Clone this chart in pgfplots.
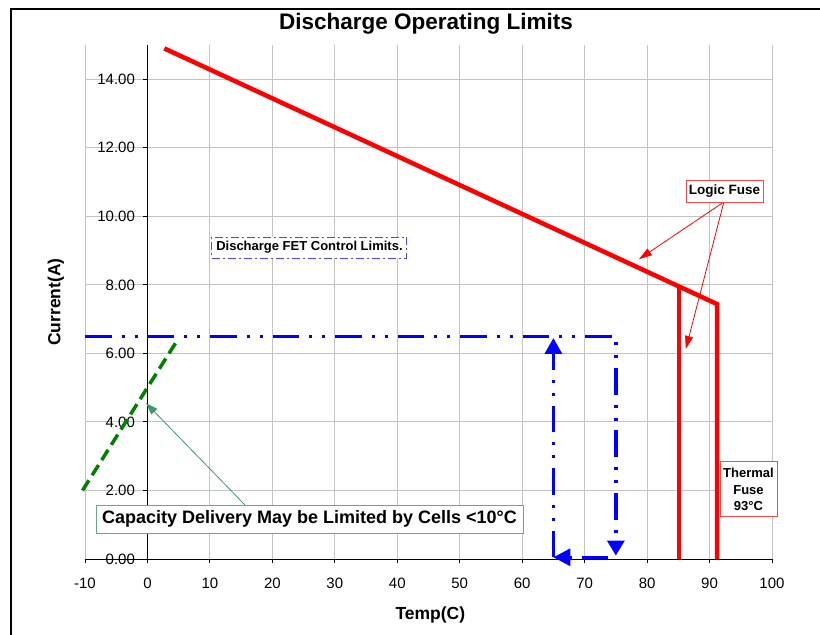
\documentclass[border=0pt]{standalone}
\usepackage{pgfplots}
\pgfplotsset{compat=1.18}
\usepackage{fontspec}
\setmainfont{Liberation Sans}
\usetikzlibrary{arrows.meta}
\definecolor{gridgray}{RGB}{195,195,195}
\definecolor{annogreen}{RGB}{60,150,110}
\definecolor{boxgreen}{RGB}{100,170,130}
\definecolor{xblue}{RGB}{0,0,255}
\definecolor{fetblue}{RGB}{70,70,255}
\definecolor{xred}{RGB}{255,0,0}
\definecolor{boxred}{RGB}{255,70,70}
\definecolor{dgreen}{RGB}{0,128,0}
\begin{document}
\begin{tikzpicture}
\begin{axis}[
  scale only axis, width=687pt, height=514pt,
  xmin=-10, xmax=100, ymin=0, ymax=15,
  axis x line=bottom, axis y line=center,
  hide obscured x ticks=false, hide obscured y ticks=false,
  xtick={-10,0,...,100}, ytick={0,2,...,14},
  grid=major, major grid style={gridgray, line width=0.9pt},
  axis line style={black, line width=0.9pt, -},
  tick style={black, line width=0.9pt},
  tick align=outside, major tick length=4pt,
  /pgf/number format/assume math mode=true,
  ticklabel style={font=\fontsize{15}{18}\selectfont},
  yticklabel style={xshift=-5pt, /pgf/number format/.cd, fixed, fixed zerofill, precision=2},
  xticklabel style={yshift=-11pt, /pgf/number format/.cd, fixed, precision=0},
  clip=false,
]
\addplot[xred, line width=4.5pt, line join=miter] coordinates {(2.7,14.9) (91.2,7.44) (91.2,0)};
\addplot[xred, line width=4.5pt] coordinates {(85.1,7.95) (85.1,0)};

\addplot[xblue, line width=3.5pt, line join=miter, dash pattern=on 26.7pt off 10pt on 3pt off 10pt on 3pt off 9.8pt, -{Triangle[length=15pt,width=17pt]}] coordinates {(-10,6.5) (75,6.5) (75,0.1)};
\addplot[xblue, line width=3.5pt, dash pattern=on 26.7pt off 10pt on 3pt off 10pt on 3pt off 9.8pt, -{Triangle[length=17pt,width=17pt]}] coordinates {(73.8,0.05) (65,0.05)};
\addplot[xblue, line width=3.5pt, dash pattern=on 26.7pt off 10pt on 3pt off 10pt on 3pt off 9.8pt, -{Triangle[length=16pt,width=17pt]}] coordinates {(65,0.05) (65,6.45)};

\addplot[dgreen, line width=3.5pt, dash pattern=on 12pt off 6pt] coordinates {(-10.4,2.0) (4.6,6.33)};

\draw[annogreen, line width=0.8pt, -{Triangle[length=12pt,width=8pt]}] (15.6,1.58) -- (-0.24,4.55);
\node[draw=boxgreen, line width=0.9pt, fill=white, minimum width=427pt, minimum height=28pt, inner sep=0pt, font=\bfseries\fontsize{18}{21}\selectfont] at (25.94,1.167) {Capacity Delivery May be Limited by Cells <10°C};

\node[draw=fetblue, line width=1pt, dash pattern=on 8pt off 3pt on 2pt off 3pt, fill=white, minimum width=195pt, minimum height=21pt, inner sep=0pt, font=\bfseries\fontsize{13}{15}\selectfont] at (25.94,9.09) {Discharge FET Control Limits.};

\draw[xred, line width=0.8pt, -{Triangle[length=13pt,width=8pt]}] (92.3,10.42) -- (78.7,8.75);
\draw[xred, line width=0.8pt, -{Triangle[length=13pt,width=8pt]}] (92.3,10.42) -- (86.2,6.13);
\node[draw=boxred, line width=0.9pt, fill=white, minimum width=77pt, minimum height=22pt, inner sep=0pt, font=\bfseries\fontsize{13.5}{15}\selectfont] at (92.4,10.74) {Logic Fuse};

\node[draw=boxred, line width=0.9pt, fill=white, minimum width=57pt, minimum height=55pt, inner sep=0pt, align=center, font=\bfseries\fontsize{13}{16.5}\selectfont] at (96.24,2.03) {Thermal\\Fuse\\93°C};

\node[anchor=base, font=\bfseries\fontsize{22.5}{26}\selectfont] at (44.6,15.44) {Discharge Operating Limits};
\node[rotate=90, font=\bfseries\fontsize{17.5}{20}\selectfont] at (-14.65,7.5) {Current(A)};
\node[font=\bfseries\fontsize{17.5}{20}\selectfont] at (45.3,-1.62) {Temp(C)};

\draw[black, line width=1.8pt] (-21.86,-3) -- (-21.86,16.05) -- (115,16.05);
\end{axis}
\pgfresetboundingbox
\path[use as bounding box] (-85pt,-76pt) rectangle (735pt,559pt);
\end{tikzpicture}
\end{document}
